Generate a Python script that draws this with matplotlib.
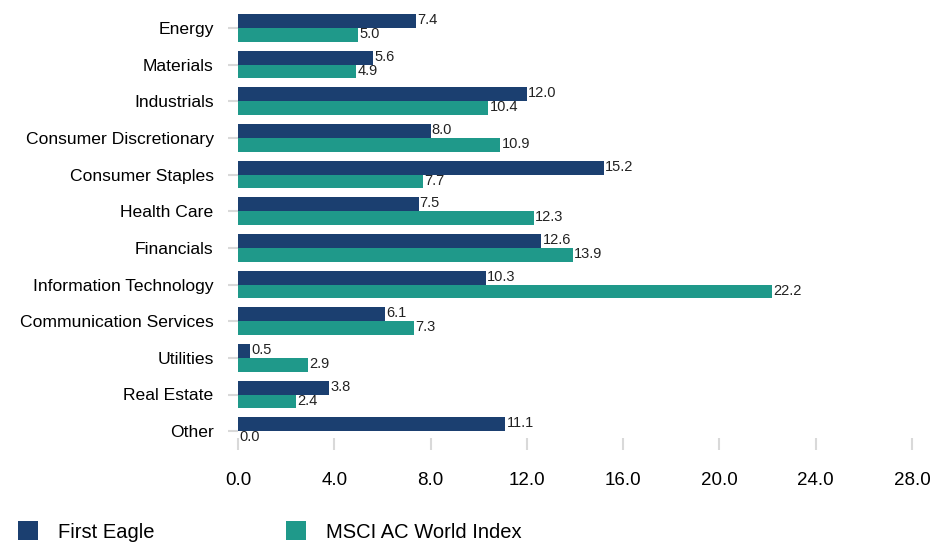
import matplotlib
matplotlib.use("Agg")
import matplotlib.pyplot as plt
import numpy as np

plt.rcParams['font.family'] = ['Liberation Sans', 'DejaVu Sans']

sectors = ["Energy", "Materials", "Industrials", "Consumer Discretionary",
           "Consumer Staples", "Health Care", "Financials",
           "Information Technology", "Communication Services", "Utilities",
           "Real Estate", "Other"]
first_eagle = [7.4, 5.6, 12.0, 8.0, 15.2, 7.5, 12.6, 10.3, 6.1, 0.5, 3.8, 11.1]
msci_acwi = [5.0, 4.9, 10.4, 10.9, 7.7, 12.3, 13.9, 22.2, 7.3, 2.9, 2.4, 0.0]
x_ticks = [0, 4, 8, 12, 16, 20, 24, 28]

navy = "#1b3f70"
teal = "#1f998a"
grey = "#d9d9d9"

fig = plt.figure(figsize=(9.31, 5.42), dpi=100)
ax = fig.add_axes([238 / 931, 1 - 449.5 / 542, (912 - 238) / 931, (449.5 - 9.5) / 542])

y = -np.arange(len(sectors))
h = 0.38
b1 = ax.barh(y + h / 2, first_eagle, height=h, color=navy, label="First Eagle")
b2 = ax.barh(y - h / 2, msci_acwi, height=h, color=teal, label="MSCI AC World Index")

for bars, vals in ((b1, first_eagle), (b2, msci_acwi)):
    for bar, v in zip(bars, vals):
        ax.text(bar.get_width() + 0.05, bar.get_y() + bar.get_height() / 2 + 0.02,
                "%.1f" % v, va="center", ha="left", fontsize=10.5, color="#222222")

ax.set_xlim(0, 28)
ax.set_ylim(-11.5, 0.5)
ax.set_yticks(y)
ax.set_yticklabels(sectors, fontsize=12.6)
ax.set_xticks(x_ticks)
ax.set_xticklabels(["%.1f" % t for t in x_ticks], fontsize=13.5)
ax.tick_params(axis="y", length=7.5, width=1.5, color=grey, pad=10)
ax.tick_params(axis="x", direction="in", length=8.5, width=1.5, color=grey, pad=16)
for s in ax.spines.values():
    s.set_visible(False)

fig.legend(handles=[b1, b2], loc="upper left", bbox_to_anchor=(18 / 931, 1 - 521 / 542),
           ncol=2, frameon=False, fontsize=14.5, handlelength=1.0, handleheight=1.1,
           handletextpad=1.0, columnspacing=6.5, borderpad=0, borderaxespad=0)

fig.savefig("out.png", dpi=100)
